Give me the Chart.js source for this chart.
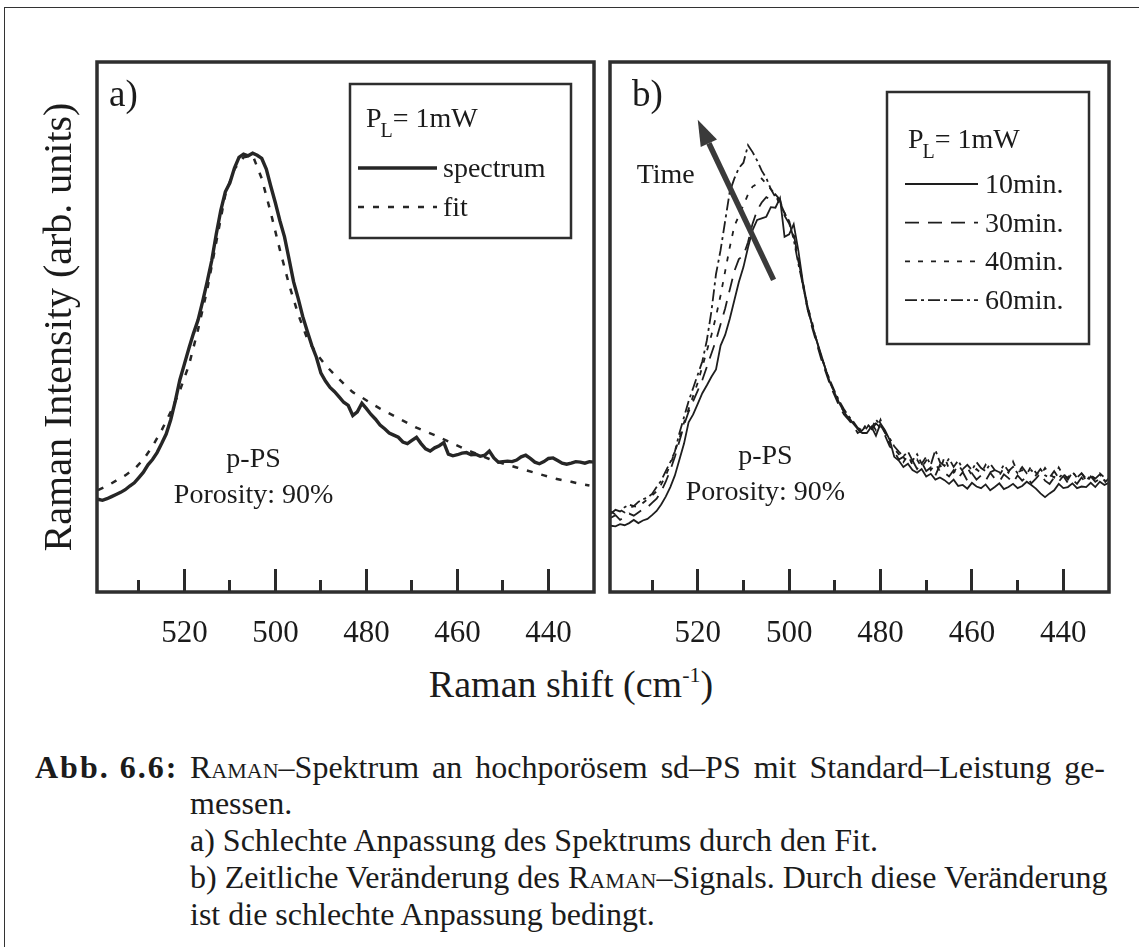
<!DOCTYPE html>
<html>
<head>
<meta charset="utf-8">
<script src="https://cdn.jsdelivr.net/npm/chart.js@4.4.1/dist/chart.umd.min.js"></script>
<style>
    html, body { margin: 0; padding: 0; background: #fff; }
    body { width: 1139px; height: 947px; position: relative; overflow: hidden;
           font-family: "Liberation Serif", "Times New Roman", serif; color: #1b1b1b; }
    .frame { position: absolute; left: 4px; top: 7px; width: 1200px; height: 1000px;
             border: 1.5px solid #333; }
    canvas { position: absolute; top: 0; }
    #chartA { left: 0; }
    #chartB { left: 600px; }
    .xtitle { position: absolute; left: 0; top: 665px; width: 1142px; text-align: center;
              font-size: 38px; line-height: 38px; }
    .xtitle sup { font-size: 22px; vertical-align: 15px; line-height: 0; }
    .cap { position: absolute; font-size: 32px; line-height: 37px; white-space: nowrap; }
    .sc { font-variant: small-caps; }
</style>
</head>
<body>
<div class="frame"></div>
<canvas id="chartA" width="600" height="660"></canvas>
<canvas id="chartB" width="539" height="660"></canvas>
<div class="xtitle">Raman shift (cm<sup>-1</sup>)</div>

<div class="cap" style="left:35px;top:749px;font-weight:bold;letter-spacing:2px;">Abb. 6.6:</div>
<div class="cap" style="left:190px;top:749px;width:915px;text-align:justify;text-align-last:justify;"><span class="sc">Raman</span>–Spektrum an hochporösem sd–PS mit Standard–Leistung ge-</div>
<div class="cap" style="left:190px;top:785px;">messen.</div>
<div class="cap" style="left:190px;top:822px;">a) Schlechte Anpassung des Spektrums durch den Fit.</div>
<div class="cap" style="left:190px;top:859px;width:915px;text-align:justify;text-align-last:justify;">b) Zeitliche Veränderung des <span class="sc">Raman</span>–Signals. Durch diese Veränderung</div>
<div class="cap" style="left:190px;top:896px;">ist die schlechte Anpassung bedingt.</div>

<script>
// Raman shift (cm-1), read every 1 cm-1 from the left edge to the right edge
const shift = [
    539, 538, 537, 536, 535, 534, 533, 532, 531, 530,
    529, 528, 527, 526, 525, 524, 523, 522, 521, 520,
    519, 518, 517, 516, 515, 514, 513, 512, 511, 510,
    509, 508, 507, 506, 505, 504, 503, 502, 501, 500,
    499, 498, 497, 496, 495, 494, 493, 492, 491, 490,
    489, 488, 487, 486, 485, 484, 483, 482, 481, 480,
    479, 478, 477, 476, 475, 474, 473, 472, 471, 470,
    469, 468, 467, 466, 465, 464, 463, 462, 461, 460,
    459, 458, 457, 456, 455, 454, 453, 452, 451, 450,
    449, 448, 447, 446, 445, 444, 443, 442, 441, 440,
    439, 438, 437, 436, 435, 434, 433, 432, 431, 430
];

// panel a) measured spectrum (arb. units, 0 = bottom of frame, 100 = top)
const spectrumA = [
    17.5, 17.3, 17.6, 18.0, 18.4, 18.8, 19.3, 20.0, 20.6, 21.6,
    22.6, 24.0, 25.0, 26.3, 28.0, 29.8, 32.5, 36.0, 40.0, 43.0,
    46.0, 48.8, 51.3, 54.8, 58.5, 62.5, 67.5, 72.0, 75.5, 77.2,
    80.0, 82.0, 82.6, 82.3, 82.8, 82.4, 81.8, 79.8, 76.5, 73.4,
    70.0, 67.0, 62.8, 58.5, 55.4, 52.0, 49.2, 46.5, 44.3, 41.3,
    39.8, 38.6, 37.8, 36.8, 35.8, 35.2, 33.3, 34.0, 35.6, 34.6,
    33.5, 32.6, 31.5, 30.8, 30.0, 29.6, 29.2, 28.3, 28.0, 28.6,
    29.2, 28.0, 27.0, 26.6, 27.2, 27.6, 28.2, 26.0, 25.7, 25.9,
    26.2, 26.3, 25.9, 26.0, 25.6, 25.8, 26.6, 25.3, 24.5, 24.6,
    24.7, 24.6, 24.9, 25.5, 25.8, 25.2, 24.5, 24.2, 24.6, 25.2,
    25.3, 24.8, 24.3, 24.1, 24.3, 24.6, 24.5, 24.3, 24.6, 24.5
];

// panel a) fit, read every 2 cm-1
const fitShift = [
    539, 537, 535, 533, 531, 529, 527, 525, 523, 521,
    519, 517, 515, 513, 511, 509, 507, 505, 503, 501,
    499, 497, 495, 493, 491, 489, 487, 485, 483, 481,
    479, 477, 475, 473, 471, 469, 467, 465, 463, 461,
    459, 457, 455, 453, 451, 449, 447, 445, 443, 441,
    439, 437, 435, 433, 431
];
const fitA = [
    19.2, 20.0, 21.0, 22.0, 23.2, 25.0, 27.5, 30.5, 34.0, 38.0,
    42.8, 49.5, 57.0, 66.0, 75.0, 79.8, 82.0, 82.4, 78.0, 71.5,
    64.5, 58.0, 52.4, 47.8, 45.0, 42.8, 41.0, 39.3, 37.7, 36.7,
    35.6, 34.6, 33.7, 32.8, 31.9, 31.0, 30.3, 29.6, 28.8, 28.0,
    27.2, 26.5, 25.8, 25.1, 24.5, 24.0, 23.5, 23.0, 22.5, 22.0,
    21.5, 21.1, 20.8, 20.4, 20.1
];

// panel b) spectra after 10, 30, 40 and 60 minutes
const b10 = [
    12.5, 12.4, 12.8, 12.6, 13.0, 13.6, 13.0, 13.5, 13.8, 14.5,
    15.3, 16.5, 18.0, 19.8, 22.0, 25.0, 28.0, 32.0, 33.5, 35.5,
    37.5, 39.0, 40.6, 42.0, 46.5, 48.5, 51.5, 55.0, 58.5, 61.3,
    65.0, 68.3, 70.2, 70.5, 70.8, 72.6, 72.5, 74.3, 67.0, 67.5,
    69.4, 64.5, 58.5, 54.0, 50.5, 47.5, 44.8, 42.0, 39.4, 37.5,
    35.6, 34.0, 32.8, 31.8, 30.8, 30.0, 30.0, 31.2, 29.5, 31.8,
    30.5, 28.7, 25.5, 24.8, 23.6, 24.2, 23.0, 22.5, 23.2, 21.8,
    22.3, 21.2, 21.6, 21.1, 20.4, 21.2, 20.0, 20.2, 19.5, 20.6,
    19.9, 19.6, 20.3, 19.2, 19.8, 20.5, 19.4, 19.8, 20.4, 19.6,
    20.0, 20.8, 20.2, 19.5, 18.6, 17.9, 18.6, 19.2, 20.4, 19.6,
    19.8, 20.5, 19.6, 19.9, 19.8, 20.6, 19.8, 20.8, 20.2, 20.6
];
const b30 = [
    14.0, 14.5, 13.6, 14.2, 14.8, 14.4, 15.0, 15.6, 16.0, 16.8,
    17.6, 19.0, 20.8, 23.0, 25.5, 28.5, 31.5, 34.0, 36.0, 38.0,
    40.0, 42.5, 45.0, 47.5, 50.5, 53.5, 57.0, 60.5, 62.8, 63.5,
    66.0, 69.5, 72.0, 73.5, 74.5, 74.0, 75.0, 74.0, 71.0, 69.5,
    67.5, 63.0, 58.0, 53.5, 50.0, 47.0, 44.0, 41.5, 39.0, 37.0,
    35.0, 33.5, 32.5, 31.5, 30.0, 30.5, 31.5, 30.5, 31.8, 31.0,
    29.5, 27.5, 26.5, 25.0, 25.5, 24.0, 24.8, 23.2, 24.5, 22.8,
    23.5, 22.0, 24.0, 22.5, 21.8, 23.0, 21.5, 22.6, 21.0, 22.4,
    21.2, 22.0, 21.0, 22.5, 21.4, 20.8, 22.2, 21.5, 20.6, 22.0,
    21.0, 21.8, 20.5, 21.4, 22.4, 21.0, 20.4, 21.6, 20.8, 21.9,
    20.6, 21.2, 20.4, 21.6, 20.5, 21.8, 20.8, 21.4, 20.6, 21.5
];
const b40 = [
    15.2, 14.6, 15.5, 15.0, 15.8, 16.2, 16.0, 16.8, 17.5, 18.2,
    19.0, 20.3, 22.0, 24.0, 26.5, 29.0, 32.0, 34.5, 37.0, 39.5,
    42.5, 45.5, 48.5, 52.0, 56.0, 60.5, 65.0, 69.0, 71.0, 73.0,
    75.0, 76.5, 77.0, 78.0, 77.0, 76.0, 75.0, 73.0, 71.5, 70.0,
    67.0, 62.5, 58.5, 54.0, 51.0, 47.5, 44.5, 42.0, 39.5, 37.5,
    35.5, 34.0, 33.0, 31.8, 30.8, 29.8, 31.0, 32.0, 30.5, 32.5,
    30.0, 28.0, 27.0, 26.0, 24.5, 25.8, 24.0, 25.0, 23.5, 24.8,
    23.0, 24.2, 22.8, 25.5, 23.2, 22.5, 24.0, 22.8, 23.5, 22.0,
    23.2, 22.4, 24.0, 22.6, 23.0, 22.0, 23.4, 22.5, 24.6, 22.6,
    23.0, 22.2, 23.8, 22.5, 22.0, 23.4, 22.2, 21.6, 23.5, 22.0,
    21.6, 22.8, 21.5, 22.4, 21.4, 22.0, 21.2, 22.4, 21.6, 22.0
];
const b60 = [
    14.8, 15.5, 15.2, 16.0, 16.5, 16.2, 17.0, 17.5, 17.8, 18.5,
    19.8, 21.0, 22.8, 24.5, 26.5, 30.0, 33.0, 36.0, 38.5, 41.0,
    43.5, 47.5, 53.0, 60.0, 64.5, 70.0, 75.5, 78.0, 80.0, 81.0,
    84.3, 83.0, 81.4, 79.5, 78.1, 76.0, 74.5, 73.5, 71.5, 70.0,
    66.5, 62.0, 58.0, 53.5, 50.5, 47.5, 44.5, 42.0, 39.8, 37.8,
    36.0, 34.5, 33.2, 32.2, 31.0, 30.5, 31.8, 30.8, 32.5, 31.5,
    30.0, 29.0, 27.5, 26.5, 25.6, 26.5, 24.8, 26.0, 24.2, 25.5,
    24.0, 26.8, 24.5, 23.8, 25.2, 23.6, 24.8, 23.2, 24.0, 23.0,
    24.5, 23.4, 22.8, 24.2, 23.0, 22.6, 24.0, 22.8, 23.6, 22.4,
    23.6, 22.4, 23.0, 22.0, 23.2, 22.0, 21.6, 22.8, 21.5, 22.4,
    21.2, 22.6, 21.6, 22.4, 21.0, 22.0, 21.4, 22.2, 21.0, 21.8
];

const xTicks = [440, 450, 460, 470, 480, 490, 500, 510, 520, 530];
const xLabelEvery = 20;
const laserPower = "1mW";
const sampleName = "p-PS";
const porosity = "Porosity: 90%";

const serif = '"Liberation Serif", "Times New Roman", serif';
const ink = "#1b1b1b";

const toPoints = (xs, ys) => xs.map((x, i) => ({x: x, y: ys[i]}));

// frame, panel letter, sample note, legend box and the time arrow
const panelDecor = {
    id: "panelDecor",
    afterDatasetsDraw(chart, args, opts) {
        const {ctx, chartArea: a, scales} = chart;
        const sx = scales.x, sy = scales.y;
        ctx.save();

        ctx.strokeStyle = "#2e2e2e";
        ctx.lineWidth = 3.5;
        ctx.strokeRect(a.left, a.top, a.right - a.left, a.bottom - a.top);

        ctx.fillStyle = ink;
        ctx.textAlign = "left";
        ctx.textBaseline = "alphabetic";
        ctx.font = "37px " + serif;
        ctx.fillText(opts.letter, a.left + opts.letterDx, a.top + 44);

        ctx.font = "28px " + serif;
        ctx.textAlign = "center";
        ctx.fillText(sampleName, sx.getPixelForValue(opts.noteX), sy.getPixelForValue(opts.noteY));
        ctx.fillText(porosity, sx.getPixelForValue(opts.noteX), sy.getPixelForValue(opts.noteY) + 36);

        // legend
        const lg = opts.legend;
        ctx.lineWidth = 2.5;
        ctx.strokeRect(lg.left, lg.top, lg.width, lg.height);
        ctx.textAlign = "left";
        let hx = lg.headX;
        ctx.font = "28px " + serif;
        ctx.fillText("P", hx, lg.headY);
        hx += ctx.measureText("P").width - 1;
        ctx.font = "20px " + serif;
        ctx.fillText("L", hx, lg.headY + 10);
        hx += ctx.measureText("L").width;
        ctx.font = "28px " + serif;
        ctx.fillText("= " + laserPower, hx, lg.headY);
        chart.data.datasets.forEach((ds, i) => {
            const y = lg.rowY + i * lg.rowStep;
            ctx.beginPath();
            ctx.setLineDash(ds.borderDash || []);
            ctx.lineWidth = ds.borderWidth;
            ctx.strokeStyle = ds.borderColor;
            ctx.moveTo(lg.x0, y);
            ctx.lineTo(lg.x1, y);
            ctx.stroke();
            ctx.setLineDash([]);
            ctx.fillText(ds.label, lg.textX, y + 9);
        });

        if (opts.arrow) {
            const ar = opts.arrow;
            const x1 = sx.getPixelForValue(ar.from[0]), y1 = sy.getPixelForValue(ar.from[1]);
            const x2 = sx.getPixelForValue(ar.to[0]), y2 = sy.getPixelForValue(ar.to[1]);
            const ang = Math.atan2(y2 - y1, x2 - x1);
            const headLen = 26, headW = 9;
            const bx = x2 - headLen * Math.cos(ang), by = y2 - headLen * Math.sin(ang);
            ctx.strokeStyle = "#3a3a3a";
            ctx.fillStyle = "#3a3a3a";
            ctx.lineWidth = 5.5;
            ctx.beginPath();
            ctx.moveTo(x1, y1);
            ctx.lineTo(bx, by);
            ctx.stroke();
            ctx.beginPath();
            ctx.moveTo(x2, y2);
            ctx.lineTo(bx + headW * Math.sin(ang), by - headW * Math.cos(ang));
            ctx.lineTo(bx - headW * Math.sin(ang), by + headW * Math.cos(ang));
            ctx.closePath();
            ctx.fill();
            ctx.fillStyle = ink;
            ctx.font = "28px " + serif;
            ctx.textAlign = "center";
            ctx.textBaseline = "middle";
            ctx.fillText(ar.text, sx.getPixelForValue(ar.textAt[0]), sy.getPixelForValue(ar.textAt[1]));
        }
        ctx.restore();
    }
};

function xScale() {
    return {
        type: "linear",
        reverse: true,
        min: 430,
        max: 539.2,
        afterBuildTicks: (scale) => { scale.ticks = xTicks.map(v => ({value: v})); },
        afterFit: (scale) => { scale.height = 68; },
        border: {display: false},
        grid: {
            display: true,
            drawOnChartArea: false,
            drawTicks: true,
            tickLength: -23,
            tickWidth: 3,
            tickColor: "#2a2a2a",
            tickBorderDash: (c) => (c.tick && c.tick.value % xLabelEvery === 0) ? [] : [12, 60]
        },
        ticks: {
            autoSkip: false,
            maxRotation: 0,
            padding: 46,
            color: ink,
            font: {family: serif, size: 31},
            callback: (v) => (v % xLabelEvery === 0 ? String(v) : "")
        }
    };
}

new Chart(document.getElementById("chartA"), {
    type: "scatter",
    data: {
        datasets: [
            {label: "spectrum", data: toPoints(shift, spectrumA), showLine: true, pointRadius: 0,
             borderColor: "#262626", borderWidth: 3.4},
            {label: "fit", data: toPoints(fitShift, fitA), showLine: true, pointRadius: 0,
             borderColor: "#262626", borderWidth: 2.5, borderDash: [6, 9]}
        ]
    },
    options: {
        responsive: false,
        animation: false,
        layout: {padding: {top: 62, right: 6, left: 0, bottom: 0}},
        plugins: {
            legend: {display: false},
            tooltip: {enabled: false},
            panelDecor: {
                letter: "a)", letterDx: 12,
                noteX: 504.8, noteY: 23.5,
                legend: {left: 350, top: 84, width: 221, height: 154, headX: 366, headY: 127,
                         rowY: 168, rowStep: 39, x0: 358, x1: 437, textX: 443}
            }
        },
        scales: {
            x: xScale(),
            y: {
                min: 0, max: 100,
                afterFit: (scale) => { scale.width = 97; },
                border: {display: false},
                grid: {display: false},
                ticks: {display: false},
                title: {display: true, text: "Raman Intensity (arb. units)", color: ink,
                        font: {family: serif, size: 40}, padding: {top: 36, bottom: 0}}
            }
        }
    },
    plugins: [panelDecor]
});

new Chart(document.getElementById("chartB"), {
    type: "scatter",
    data: {
        datasets: [
            {label: "10min.", data: toPoints(shift, b10), showLine: true, pointRadius: 0,
             borderColor: "#1e1e1e", borderWidth: 1.8},
            {label: "30min.", data: toPoints(shift, b30), showLine: true, pointRadius: 0,
             borderColor: "#1e1e1e", borderWidth: 1.8, borderDash: [14, 9]},
            {label: "40min.", data: toPoints(shift, b40), showLine: true, pointRadius: 0,
             borderColor: "#1e1e1e", borderWidth: 1.8, borderDash: [5, 8]},
            {label: "60min.", data: toPoints(shift, b60), showLine: true, pointRadius: 0,
             borderColor: "#1e1e1e", borderWidth: 1.8, borderDash: [12, 4, 3, 4]}
        ]
    },
    options: {
        responsive: false,
        animation: false,
        layout: {padding: {top: 62, right: 30, left: 10, bottom: 0}},
        plugins: {
            legend: {display: false},
            tooltip: {enabled: false},
            panelDecor: {
                letter: "b)", letterDx: 22,
                noteX: 505.2, noteY: 24.2,
                legend: {left: 287, top: 92, width: 202, height: 252, headX: 308, headY: 148,
                         rowY: 184, rowStep: 38.7, x0: 305, x1: 378, textX: 385},
                arrow: {from: [503.4, 58.9], to: [520, 89.1], text: "Time", textAt: [527, 78.5]}
            }
        },
        scales: {
            x: xScale(),
            y: {min: 0, max: 100, display: false}
        }
    },
    plugins: [panelDecor]
});
</script>
</body>
</html>
